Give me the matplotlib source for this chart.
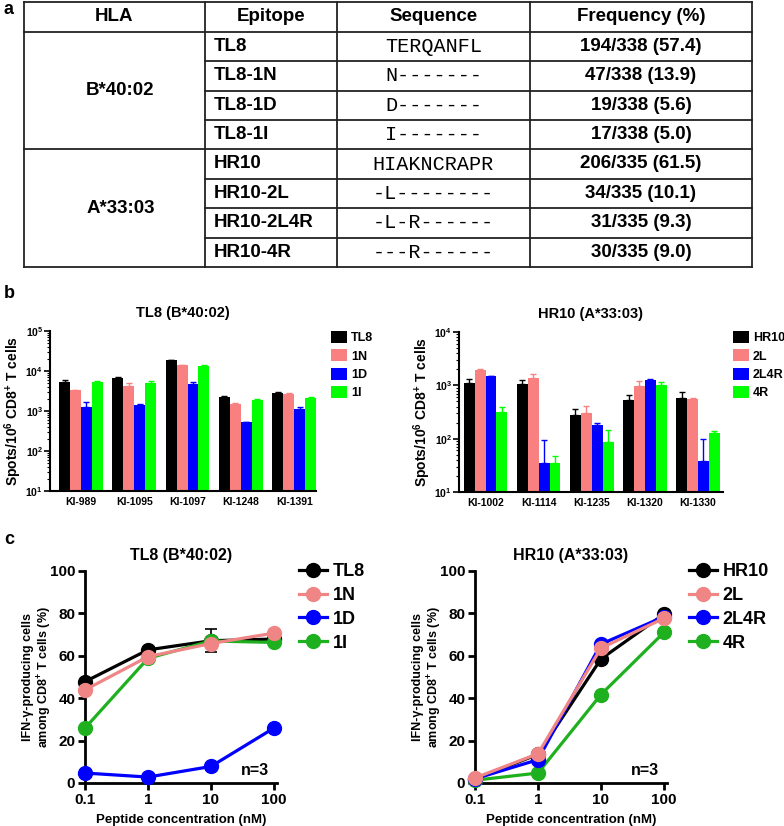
import numpy as np
import matplotlib
matplotlib.use('Agg')
import matplotlib.pyplot as plt
from matplotlib.patches import Patch
from matplotlib.lines import Line2D
from matplotlib.ticker import LogLocator, NullFormatter, FixedLocator, FixedFormatter

plt.rcParams['font.family'] = ['Liberation Sans', 'DejaVu Sans']
plt.rcParams['font.weight'] = 'bold'
plt.rcParams['axes.labelweight'] = 'bold'
plt.rcParams['mathtext.fontset'] = 'custom'
plt.rcParams['mathtext.rm'] = 'Liberation Sans:bold'
plt.rcParams['mathtext.bf'] = 'Liberation Sans:bold'
plt.rcParams['mathtext.it'] = 'Liberation Sans:bold:italic'
plt.rcParams['axes.linewidth'] = 1.5

# ---------------- data: table (a) ----------------
table_header = ["HLA", "Epitope", "Sequence", "Frequency (%)"]
hla_groups = ["B*40:02", "A*33:03"]
epitopes = ["TL8", "TL8-1N", "TL8-1D", "TL8-1I",
            "HR10", "HR10-2L", "HR10-2L4R", "HR10-4R"]
sequences = ["TERQANFL", "N-------", "D-------", "I-------",
             "HIAKNCRAPR", "-L--------", "-L-R------", "---R------"]
frequencies = ["194/338 (57.4)", "47/338 (13.9)", "19/338 (5.6)", "17/338 (5.0)",
               "206/335 (61.5)", "34/335 (10.1)", "31/335 (9.3)", "30/335 (9.0)"]

# ---------------- data: ELISpot (b) ----------------
tl8_donors = ["KI-989", "KI-1095", "KI-1097", "KI-1248", "KI-1391"]
tl8_peptides = ["TL8", "1N", "1D", "1I"]
tl8_spots = [[5400, 6800, 18800, 2200, 2870],
             [3300, 4300, 13900, 1530, 2610],
             [1290, 1410, 4640, 520, 1100],
             [5400, 4900, 13600, 1880, 2150]]
tl8_err = [[500, 300, 400, 150, 100],
           [0, 600, 300, 50, 200],
           [360, 80, 760, 20, 180],
           [100, 700, 200, 100, 80]]

hr10_donors = ["KI-1002", "KI-1114", "KI-1235", "KI-1320", "KI-1330"]
hr10_peptides = ["HR10", "2L", "2L4R", "4R"]
hr10_spots = [[1120, 1075, 278, 524, 587],
              [1910, 1393, 302, 956, 562],
              [1496, 34.5, 178, 1241, 38],
              [316, 34.5, 88, 1015, 128]]
hr10_err = [[176, 166, 77, 137, 172],
            [90, 267, 105, 274, 20],
            [10, 60, 16, 74, 62],
            [77, 13, 60, 157, 9]]

# ---------------- data: dose response (c) ----------------
conc = [0.1, 1, 10, 100]
conc_labels = ['0.1', '1', '10', '100']
tl8_resp = [[47.8, 62.8, 67.1, 67.9],
            [43.9, 59.6, 65.8, 70.7],
            [4.7, 2.8, 7.8, 25.9],
            [25.9, 58.8, 67.0, 66.3]]
tl8_resp_err = [[0, 1.5, 5.5, 0],
                [0, 0, 0, 0],
                [0, 0, 0, 0],
                [0, 0, 0, 0]]
hr10_resp = [[2.0, 13.5, 58.5, 79.6],
             [2.4, 13.8, 63.6, 77.7],
             [2.0, 11.0, 65.5, 78.4],
             [1.3, 4.7, 41.7, 71.0]]

bar_colors = ['#000000', '#f88080', '#0000ff', '#00ff00']
line_colors = ['#000000', '#f08585', '#0000ff', '#1fb01f']

W, H = 784, 826
fig = plt.figure(figsize=(W / 100, H / 100), dpi=100)


def fr(x0, y0, x1, y1):
    return [x0 / W, 1 - y1 / H, (x1 - x0) / W, (y1 - y0) / H]


# ---------------- panel a: table ----------------
tab = fig.add_axes([0, 0, 1, 1])
tab.set_xlim(0, W)
tab.set_ylim(H, 0)
tab.axis('off')
tab.patch.set_alpha(0)

col_x = [24, 205, 337, 530, 752]
row_top = 2
row_h = [29.7] + [29.4] * 8
row_y = np.concatenate([[row_top], row_top + np.cumsum(row_h)])
lw = 1.3
lc = '#222222'
for x in col_x:
    tab.plot([x, x], [row_y[0], row_y[-1]], color=lc, lw=lw)
for i, y in enumerate(row_y):
    if i in (0, 1, 5, 9):
        tab.plot([col_x[0], col_x[-1]], [y, y], color=lc, lw=lw)
    else:
        tab.plot([col_x[1], col_x[-1]], [y, y], color=lc, lw=lw)

hfont = dict(fontsize=13.5, fontweight='bold', va='center', ha='center')
for j, txt in enumerate(table_header):
    tab.text((col_x[j] + col_x[j + 1]) / 2, (row_y[0] + row_y[1]) / 2, txt, **hfont)
for g, hla in enumerate(hla_groups):
    yc = (row_y[1 + 4 * g] + row_y[5 + 4 * g]) / 2
    tab.text((col_x[0] + col_x[1]) / 2 + 6, yc, hla, **hfont)
for i in range(len(epitopes)):
    yc = (row_y[i + 1] + row_y[i + 2]) / 2
    tab.text(col_x[1] + 9, yc, epitopes[i], fontsize=13.5, fontweight='bold',
             va='center', ha='left')
    tab.text((col_x[2] + col_x[3]) / 2, yc, sequences[i], fontsize=14.5,
             fontweight='normal', va='center', ha='center',
             family=['Liberation Mono', 'DejaVu Sans Mono'])
    tab.text((col_x[3] + col_x[4]) / 2, yc, frequencies[i], **hfont)

# panel letters
for lab, (x, y) in zip(['a', 'b', 'c'], [(4, 9), (4, 293), (4, 540)]):
    fig.text(x / W, 1 - y / H, lab, fontsize=13, fontweight='bold', va='center', ha='left')


# ---------------- panel b ----------------
def bar_panel(rect, donors, peptides, spots, errs, ylim_top, xlim, title, leg_xy):
    ax = fig.add_axes(fr(*rect))
    n = len(peptides)
    bw = 0.205
    x = np.arange(len(donors))
    for k in range(n):
        xs = x + (k - (n - 1) / 2) * bw
        ax.bar(xs, spots[k], width=bw, color=bar_colors[k], label=peptides[k],
               zorder=2, edgecolor='none')
        yerr = np.array([np.zeros(len(donors)), errs[k]])
        ax.errorbar(xs, spots[k], yerr=yerr, fmt='none', ecolor=bar_colors[k],
                    elinewidth=1.0, capsize=2.5, capthick=1.0, zorder=3)
    ax.set_yscale('log')
    ax.set_ylim(10, ylim_top)
    ax.set_xlim(*xlim)
    ax.spines['top'].set_visible(False)
    ax.spines['right'].set_visible(False)
    ax.set_xticks(x)
    ax.set_xticklabels(donors, fontsize=7.5, fontweight='bold')
    ax.tick_params(axis='x', length=0, pad=4)
    decs = np.arange(1, int(round(np.log10(ylim_top))) + 1)
    ax.yaxis.set_major_locator(FixedLocator(10.0 ** decs))
    ax.yaxis.set_major_formatter(FixedFormatter([r'$10^{%d}$' % d for d in decs]))
    ax.yaxis.set_minor_locator(LogLocator(base=10, subs=np.arange(2, 10), numticks=20))
    ax.yaxis.set_minor_formatter(NullFormatter())
    ax.tick_params(axis='y', which='major', length=4, width=1.2, labelsize=7.5, pad=1)
    ax.tick_params(axis='y', which='minor', length=2, width=0.8)
    ax.set_ylabel(r'Spots/10$^{6}$ CD8$^{+}$ T cells', fontsize=10, fontweight='bold', labelpad=1)
    ax.set_title(title, fontsize=10.5, fontweight='bold', pad=10)
    handles = [Patch(facecolor=bar_colors[k], edgecolor='none') for k in range(n)]
    leg = ax.legend(handles, peptides, loc='upper left',
                    bbox_to_anchor=(leg_xy[0] / W, 1 - leg_xy[1] / H),
                    bbox_transform=fig.transFigure, frameon=False,
                    fontsize=9, handlelength=1.3, handleheight=1.1,
                    handletextpad=0.3, labelspacing=0.4, borderpad=0, borderaxespad=0)
    for t in leg.get_texts():
        t.set_fontweight('bold')
    return ax


bar_panel((50, 331, 316, 491), tl8_donors, tl8_peptides, tl8_spots, tl8_err,
          1e5, (-0.58, 4.41), 'TL8 (B*40:02)', (331, 331))
bar_panel((459, 332, 723, 492), hr10_donors, hr10_peptides, hr10_spots, hr10_err,
          1e4, (-0.5, 4.47), 'HR10 (A*33:03)', (733, 331))


# ---------------- panel c ----------------
def line_panel(rect, peptides, resp, resp_err, title, leg_xy):
    ax = fig.add_axes(fr(*rect))
    order = [0, 3, 2, 1]
    for k in order:
        ax.errorbar(conc, resp[k], yerr=resp_err[k] if resp_err is not None else None,
                    color=line_colors[k], marker='o', markersize=10, lw=2.3,
                    elinewidth=1.2, capsize=4, capthick=1.2, clip_on=False,
                    zorder=3 + order.index(k), label=peptides[k])
    ax.set_xscale('log')
    ax.set_xlim(0.1, 112)
    ax.set_ylim(0, 100)
    ax.spines['top'].set_visible(False)
    ax.spines['right'].set_visible(False)
    ax.spines['left'].set_linewidth(2)
    ax.spines['bottom'].set_linewidth(2)
    ax.xaxis.set_major_locator(FixedLocator(conc))
    ax.xaxis.set_major_formatter(FixedFormatter(conc_labels))
    ax.xaxis.set_minor_locator(FixedLocator([]))
    ax.set_yticks([0, 20, 40, 60, 80, 100])
    ax.tick_params(axis='both', length=5, width=2, labelsize=11, pad=2)
    for lab in ax.get_xticklabels() + ax.get_yticklabels():
        lab.set_fontweight('bold')
    ax.set_xlabel('Peptide concentration (nM)', fontsize=9.5, fontweight='bold', labelpad=5)
    ax.set_ylabel('IFN-\u03b3-producing cells\namong CD8$^{+}$ T cells (%)',
                  fontsize=9, fontweight='bold', labelpad=-3, linespacing=1.1)
    ax.set_title(title, fontsize=11.5, fontweight='bold', pad=8)
    ax.text(0.96, 0.025, 'n=3', transform=ax.transAxes, ha='right', va='bottom',
            fontsize=11.5, fontweight='bold')
    handles = [Line2D([0], [0], color=line_colors[k], marker='o', markersize=10, lw=2.3)
               for k in range(len(peptides))]
    leg = ax.legend(handles, peptides, loc='upper left',
                    bbox_to_anchor=(leg_xy[0] / W, 1 - leg_xy[1] / H),
                    bbox_transform=fig.transFigure, frameon=False,
                    fontsize=13, handlelength=1.55, handletextpad=0.3,
                    labelspacing=0.38, borderpad=0, borderaxespad=0)
    for t in leg.get_texts():
        t.set_fontweight('bold')
    return ax


line_panel((85, 571, 277, 783), tl8_peptides, tl8_resp, tl8_resp_err,
           'TL8 (B*40:02)', (299, 563))
line_panel((475, 571, 667, 783), hr10_peptides, hr10_resp, None,
           'HR10 (A*33:03)', (689, 563))

fig.savefig('out.png', dpi=100)
